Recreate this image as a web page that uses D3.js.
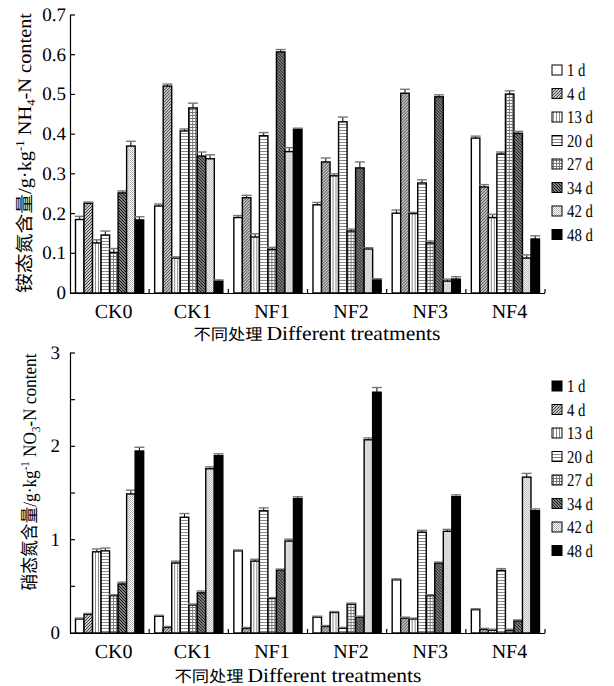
<!DOCTYPE html>
<html>
<head>
<meta charset="utf-8">
<script src="https://cdn.jsdelivr.net/npm/d3@7"></script>
<style>
  body { margin: 0; background: #fff; }
  svg { display: block; font-family: "Liberation Serif", "Times New Roman", "Noto Sans CJK SC", serif; }
  text { -webkit-font-smoothing: antialiased; text-rendering: geometricPrecision; }
</style>
</head>
<body>
<div id="chart"></div>
<script>
const treatments = ["CK0", "CK1", "NF1", "NF2", "NF3", "NF4"]
const days = ["1 d", "4 d", "13 d", "20 d", "27 d", "34 d", "42 d", "48 d"]

// NH4-N content, one row per treatment, one value per day
const nh4 = [
  [0.185, 0.226, 0.126, 0.146, 0.102, 0.252, 0.370, 0.184],
  [0.219, 0.521, 0.088, 0.408, 0.466, 0.345, 0.338, 0.030],
  [0.190, 0.240, 0.141, 0.396, 0.110, 0.607, 0.356, 0.412],
  [0.222, 0.330, 0.295, 0.431, 0.156, 0.315, 0.111, 0.033],
  [0.201, 0.503, 0.200, 0.277, 0.126, 0.494, 0.030, 0.035],
  [0.390, 0.267, 0.190, 0.350, 0.501, 0.402, 0.088, 0.136]
]
const nh4Err = [
  [0.008, 0.003, 0.008, 0.010, 0.010, 0.005, 0.012, 0.008],
  [0.005, 0.005, 0.003, 0.005, 0.012, 0.010, 0.010, 0.003],
  [0.005, 0.006, 0.008, 0.008, 0.005, 0.006, 0.010, 0.003],
  [0.006, 0.010, 0.005, 0.012, 0.005, 0.015, 0.003, 0.003],
  [0.008, 0.010, 0.003, 0.008, 0.005, 0.005, 0.005, 0.006],
  [0.005, 0.006, 0.008, 0.005, 0.008, 0.005, 0.008, 0.008]
]

// NO3-N content
const no3 = [
  [0.15, 0.20, 0.87, 0.88, 0.40, 0.525, 1.49, 1.95],
  [0.18, 0.06, 0.75, 1.24, 0.30, 0.43, 1.76, 1.90],
  [0.88, 0.05, 0.77, 1.31, 0.37, 0.675, 0.985, 1.44],
  [0.17, 0.07, 0.22, 0.05, 0.31, 0.17, 2.07, 2.58],
  [0.57, 0.16, 0.15, 1.08, 0.40, 0.75, 1.09, 1.46],
  [0.25, 0.04, 0.03, 0.67, 0.03, 0.13, 1.67, 1.31]
]
const no3Err = [
  [0.01, 0.01, 0.03, 0.03, 0.01, 0.02, 0.04, 0.04],
  [0.01, 0.01, 0.02, 0.04, 0.01, 0.02, 0.02, 0.02],
  [0.01, 0.01, 0.02, 0.03, 0.01, 0.01, 0.02, 0.02],
  [0.01, 0.01, 0.01, 0.01, 0.01, 0.01, 0.02, 0.05],
  [0.01, 0.01, 0.01, 0.02, 0.01, 0.01, 0.02, 0.02],
  [0.01, 0.01, 0.01, 0.02, 0.01, 0.01, 0.04, 0.02]
]

const nh4Ticks = [0, 0.1, 0.2, 0.3, 0.4, 0.5, 0.6, 0.7]
const no3Ticks = [0, 0.5, 1, 1.5, 2, 2.5, 3]
const no3Labels = [0, 1, 2, 3]

const width = 614, height = 686
const fills = ["#fff", "url(#p4)", "url(#p13)", "url(#p20)", "url(#p27)", "url(#p34)", "url(#p42)", "#000"]

const svg = d3.select("#chart").append("svg")
  .attr("width", width).attr("height", height)

// hatch patterns
const defs = svg.append("defs")
function pattern(id, size, draw) {
  const p = defs.append("pattern").attr("id", id)
    .attr("patternUnits", "userSpaceOnUse").attr("width", size).attr("height", size)
  p.append("rect").attr("width", size).attr("height", size).attr("fill", "#fff")
  draw(p)
}
pattern("p4", 3, p => p.append("path").attr("d", "M-1,1 L1,-1 M0,3 L3,0 M2,4 L4,2")
  .attr("stroke", "#3a3a3a").attr("stroke-width", 1.1))
pattern("p13", 3, p => p.append("rect").attr("x", 1).attr("width", 1).attr("height", 3).attr("fill", "#888"))
pattern("p20", 3, p => p.append("rect").attr("y", 1).attr("width", 3).attr("height", 1).attr("fill", "#888"))
pattern("p27", 3, p => {
  p.append("rect").attr("x", 1).attr("width", 1).attr("height", 3).attr("fill", "#777")
  p.append("rect").attr("y", 1).attr("width", 3).attr("height", 1).attr("fill", "#777")
})
pattern("p34", 3, p => p.append("path").attr("d", "M-1,2 L1,4 M0,0 L3,3 M2,-1 L4,1")
  .attr("stroke", "#111").attr("stroke-width", 1.5))
pattern("p42", 2, p => {
  p.append("rect").attr("width", 1).attr("height", 1).attr("fill", "#aaa")
  p.append("rect").attr("x", 1).attr("y", 1).attr("width", 1).attr("height", 1).attr("fill", "#bbb")
})

function drawChart(cfg) {
  const x0 = d3.scaleBand().domain(treatments).range([70, 545])
  const x1 = d3.scaleBand().domain(days).range([5.5, x0.bandwidth() - 5.5])
  const y = d3.scaleLinear().domain(cfg.domain).range([cfg.bottom, cfg.top])

  const g = svg.append("g")

  treatments.forEach((t, ti) => {
    const grp = g.append("g").attr("transform", `translate(${x0(t)},0)`)
    days.forEach((d, di) => {
      const v = cfg.values[ti][di]
      const e = cfg.errors[ti][di]
      const bx = x1(d)
      grp.append("rect")
        .attr("x", bx).attr("y", y(v))
        .attr("width", x1.bandwidth()).attr("height", y(0) - y(v))
        .attr("fill", fills[di])
        .attr("stroke", "#000").attr("stroke-width", 1.4)
      const cx = bx + x1.bandwidth() / 2
      grp.append("line")
        .attr("x1", cx).attr("x2", cx).attr("y1", y(v)).attr("y2", y(v + e))
        .attr("stroke", "#000").attr("stroke-width", 1)
      grp.append("line")
        .attr("x1", cx - 5).attr("x2", cx + 5).attr("y1", y(v + e)).attr("y2", y(v + e))
        .attr("stroke", "#777").attr("stroke-width", 1.4)
    })
  })

  // y axis
  g.append("line").attr("x1", 70.5).attr("x2", 70.5)
    .attr("y1", y(cfg.domain[1])).attr("y2", y(0))
    .attr("stroke", "#000").attr("stroke-width", 1.2)
  cfg.ticks.forEach(t => {
    g.append("line").attr("x1", 70).attr("x2", 75).attr("y1", y(t)).attr("y2", y(t))
      .attr("stroke", "#000").attr("stroke-width", 1.2)
  })
  cfg.labels.forEach(t => {
    g.append("text").attr("x", cfg.labelX).attr("y", y(t) + 6)
      .attr("text-anchor", "end").attr("font-size", 19).text(t)
  })

  // x axis
  g.append("line").attr("x1", 70).attr("x2", 545).attr("y1", y(0) + 0.5).attr("y2", y(0) + 0.5)
    .attr("stroke", "#000").attr("stroke-width", 1.2)
  treatments.forEach(t => {
    const xe = x0(t) + x0.bandwidth()
    g.append("line").attr("x1", xe).attr("x2", xe).attr("y1", y(0)).attr("y2", y(0) - 4)
      .attr("stroke", "#000").attr("stroke-width", 1.2)
    g.append("text").attr("x", x0(t) + x0.bandwidth() / 2 + 4).attr("y", y(0) + 25)
      .attr("text-anchor", "middle").attr("font-size", 20).text(t)
  })
  const xt = g.append("text").attr("y", y(0) + cfg.titleDy)
    .attr("text-anchor", "middle").attr("font-size", 20)
  xt.append("tspan").attr("font-family", "Noto Sans CJK SC").attr("font-size", 16).text("不同处理 ")
  xt.append("tspan").text("Different treatments")
  const xw = xt.node().getComputedTextLength()
  xt.attr("transform", `translate(${cfg.titleX},0) scale(${247 / xw},1)`)

  // y title
  const yt = g.append("text").attr("font-size", 19)
  yt.append("tspan").attr("font-family", "Noto Sans CJK SC").attr("font-size", 18.5).text(cfg.yTitle[0])
  yt.append("tspan").text("/g·kg")
  yt.append("tspan").attr("font-size", 12).attr("dy", -7).text("-1")
  yt.append("tspan").attr("dy", 7).text(" " + cfg.yTitle[1])
  yt.append("tspan").attr("font-size", 12).attr("dy", 4).text(cfg.yTitle[2])
  yt.append("tspan").attr("dy", -4).text("-N content")
  const yw = yt.node().getComputedTextLength()
  yt.attr("x", -yw / 2)
    .attr("transform", `translate(${cfg.yTitleX},${cfg.yTitleY}) rotate(-90) scale(${cfg.yTitleLen / yw},1)`)

  // legend
  const lg = g.append("g")
  days.forEach((d, di) => {
    const ly = cfg.legendY + di * 23.5
    lg.append("rect").attr("x", 552).attr("y", ly - 11).attr("width", 10).attr("height", 10)
      .attr("fill", cfg.legendFills[di]).attr("stroke", "#000").attr("stroke-width", 1)
    const tx = lg.append("text").attr("x", 567).attr("y", ly).attr("font-size", 18).text(d)
    const w = tx.node().getComputedTextLength()
    tx.attr("textLength", w * 0.82).attr("lengthAdjust", "spacingAndGlyphs")
  })
}

drawChart({
  values: nh4, errors: nh4Err, domain: [0, 0.7], top: 15, bottom: 293,
  ticks: nh4Ticks, labels: nh4Ticks, labelX: 66, titleX: 317, titleDy: 47,
  yTitle: ["铵态氮含量", "NH", "4"], yTitleX: 31, yTitleY: 153, yTitleLen: 280,
  legendY: 76, legendFills: fills
})

drawChart({
  values: no3, errors: no3Err, domain: [0, 3], top: 353, bottom: 633,
  ticks: no3Ticks, labels: no3Labels, labelX: 60, titleX: 298, titleDy: 49,
  yTitle: ["硝态氮含量", "NO", "3"], yTitleX: 36, yTitleY: 472, yTitleLen: 237,
  legendY: 392, legendFills: ["#000"].concat(fills.slice(1))
})
</script>
</body>
</html>
